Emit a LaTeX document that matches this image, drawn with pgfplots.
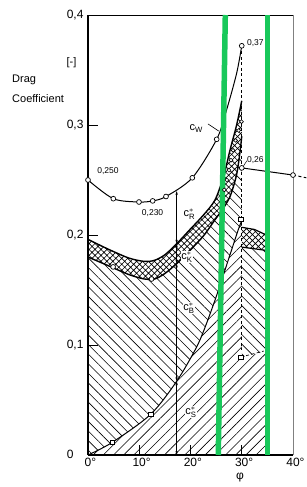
\documentclass[border=0pt]{standalone}
\usepackage{fontspec}
\setmainfont{Liberation Sans}
\usepackage{amsmath}
\usepackage{pgfplots}
\pgfplotsset{compat=1.18}
\usepgfplotslibrary{fillbetween}
\usetikzlibrary{patterns.meta,arrows.meta}
\definecolor{mygreen}{RGB}{24,200,90}
\newcommand{\cst}[1]{c$^{*}_{\text{#1}}$}
\tikzset{
 NE/.style={pattern={Lines[angle=45,distance=7.2pt,line width=0.6pt]}},
 NW/.style={pattern={Lines[angle=-45,distance=6.8pt,line width=0.6pt]}},
 XH/.style={pattern={Hatch[angle=45,distance=4.2pt,line width=0.65pt]}},
}
\begin{document}
\begin{tikzpicture}
\begin{axis}[
 at={(0,0)}, anchor=south west,
 scale only axis, width=205pt, height=440pt,
 xmin=0, xmax=40, ymin=0, ymax=0.4,
 axis x line*=bottom, axis y line*=left,
 xtick={0,10,20,30,40}, ytick={0,0.1,0.2,0.3,0.4},
 xticklabels={0\rlap{°},10\rlap{°},20\rlap{°},30\rlap{°},40\rlap{°}},
 yticklabels={0\phantom{,0},{0,1},{0,2},{0,3},{\raisebox{-5pt}{0,4}}},
 tick align=inside, major tick length=10pt,
 clip=false,
 axis line style={line width=1.1pt},
 tick style={line width=0.8pt, black},
 ticklabel style={font=\fontsize{12}{14}\selectfont},
 yticklabel style={xshift=-1pt},
]
% named paths
\addplot[draw=none, name path=base] coordinates {(0,0)(30,0)};
\addplot[name path=cs, line width=1pt, smooth] coordinates {(0,0)(4.74,0.0115)(12.23,0.037)(17.3,0.067)(20.9,0.0955)(22.5,0.112)(24.8,0.141)(27,0.172)(29.3,0.2045)(30,0.213)};
\addplot[name path=U, line width=1.4pt, smooth] coordinates {(0,0.196)(4,0.187)(8,0.179)(11,0.176)(13,0.177)(15,0.182)(17.3,0.192)(19.9,0.205)(22.5,0.218)(24.8,0.232)(26.5,0.254)(27.7,0.277)(29,0.300)(30,0.322)};
\addplot[name path=L, line width=1.4pt, smooth] coordinates {(0,0.180)(4,0.172)(8,0.164)(11,0.160)(13,0.160)(15,0.165)(17.3,0.174)(19.9,0.186)(22.5,0.199)(24.8,0.214)(26.5,0.225)(27.8,0.236)(29,0.255)(29.7,0.277)(30,0.290)};
% fills
\addplot[NE] fill between[of=cs and base];
\addplot[NW] fill between[of=L and cs];
\addplot[XH] fill between[of=U and L];
\addplot[draw=none, NE] coordinates {(30,0)(30,0.089)(34.8,0.094)(34.8,0)} -- cycle;
\addplot[draw=none, NW] coordinates {(30,0.089)(34.8,0.094)(34.8,0.186)(30,0.189)} -- cycle;
\addplot[draw=none, XH] coordinates {(30,0.189)(34.8,0.186)(34.8,0.200)(32.5,0.205)(30,0.207)} -- cycle;
\addplot[line width=1.2pt] coordinates {(30,0.207)(32.5,0.205)(34.8,0.200)};
\addplot[line width=1.2pt] coordinates {(30,0.189)(34.8,0.186)};
% c_W
\addplot[line width=1pt, smooth] coordinates {(0,0.250)(4.94,0.233)(9.95,0.230)(12.62,0.231)(15.22,0.235)(20.35,0.252)(25.11,0.287)(27.06,0.314)(29,0.347)(30,0.372)};
% frame top / right
\addplot[line width=0.8pt] coordinates {(0,0.4)(40,0.4)};
\addplot[gray, line width=0.8pt] coordinates {(40,0.4)(40,0)};
% dashed verticals and right branch
\addplot[line width=0.7pt, dash pattern=on 3pt off 2.5pt] coordinates {(30,0.372)(30,0.095)};
\addplot[line width=0.7pt, dash pattern=on 3pt off 2.5pt] coordinates {(29.8,0.089)(34.3,0.0945)};
\addplot[line width=1pt] coordinates {(30,0.261)(40,0.2545)};
\addplot[line width=1pt, dash pattern=on 3pt off 2.5pt] coordinates {(40,0.2545)(42.6,0.252)};
% dimension line
\addplot[line width=0.6pt, <->, >={Stealth[length=4pt,width=2.4pt]}] coordinates {(17.3,0.240)(17.3,0.192)};
\addplot[line width=0.6pt, <->, >={Stealth[length=4pt,width=2.4pt]}] coordinates {(17.3,0.192)(17.3,0.174)};
\addplot[line width=0.6pt, <->, >={Stealth[length=4pt,width=2.4pt]}] coordinates {(17.3,0.174)(17.3,0.067)};
\addplot[line width=0.6pt, <->, >={Stealth[length=4pt,width=2.4pt]}] coordinates {(17.3,0.067)(17.3,0.0)};
% marks
\addplot[only marks, mark=*, mark size=2.4pt, mark options={fill=white, draw=black, line width=0.7pt}] coordinates {(0,0.250)(4.94,0.233)(9.95,0.230)(12.62,0.231)(15.22,0.235)(20.35,0.252)(25.11,0.287)(30,0.372)(30,0.261)(40,0.2545)(4.9,0.171)(12.4,0.160)};
\addplot[only marks, mark=*, mark size=1.9pt, mark options={fill=white, draw=black, line width=0.6pt}] coordinates {(26.6,0.241)(27.1,0.250)(27.5,0.259)(27.9,0.268)(28.3,0.277)(28.8,0.286)(29.4,0.295)(29.95,0.303)};
\addplot[only marks, mark=square*, mark size=2.2pt, mark options={fill=white, draw=black, line width=0.7pt}] coordinates {(4.74,0.0115)(12.23,0.037)(29.8,0.214)(29.8,0.089)};
% green overlay lines
\addplot[mygreen, line width=5.5pt] coordinates {(26.79,0.4)(25.42,0)};
\addplot[mygreen, line width=5.5pt] coordinates {(35.06,0.4)(35.06,0)};
% labels
\node[font=\fontsize{8.5}{10}\selectfont] at (axis cs:3.9,0.2582) {0,250};
\node[font=\fontsize{8.5}{10}\selectfont] at (axis cs:12.6,0.220) {0,230};
\node[font=\fontsize{8.5}{10}\selectfont, anchor=west, inner sep=0pt] at (axis cs:31.0,0.3748) {0,37};
\node[font=\fontsize{8.5}{10}\selectfont, anchor=west, inner sep=0pt] at (axis cs:31.0,0.268) {0,26};
\draw[line width=0.5pt] (axis cs:30.35,0.2628) -- (axis cs:31.0,0.2675);
\draw[line width=0.6pt] (axis cs:23.4,0.301) -- (axis cs:25.5,0.2945);
\node[font=\fontsize{11}{13}\selectfont] at (axis cs:21.1,0.297) {c\textsubscript{W}};
\node[font=\fontsize{11}{13}\selectfont] at (axis cs:19.8,0.219) {\cst{R}};
\node[font=\fontsize{11}{13}\selectfont, fill=white, inner sep=0.8pt] at (axis cs:19.3,0.180) {\cst{K}};
\node[font=\fontsize{11}{13}\selectfont, fill=white, inner sep=0.8pt] at (axis cs:19.7,0.1336) {\cst{B}};
\node[font=\fontsize{11}{13}\selectfont, fill=white, inner sep=0.8pt] at (axis cs:20.1,0.039) {\cst{S}};
\end{axis}
\node[anchor=west, font=\fontsize{11}{13}\selectfont, inner sep=0pt] at (-76pt,375pt) {Drag};
\node[anchor=west, font=\fontsize{11}{13}\selectfont, inner sep=0pt] at (-76pt,356pt) {Coefficient};
\node[font=\fontsize{11}{13}\selectfont, inner sep=0pt] at (-16.5pt,392.5pt) {[-]};
\node[font=\fontsize{12}{14}\selectfont, inner sep=0pt] at (152pt,-23pt) {φ};
\pgfresetboundingbox
\path (-88pt,-32pt) rectangle (219pt,455pt);
\end{tikzpicture}
\end{document}
